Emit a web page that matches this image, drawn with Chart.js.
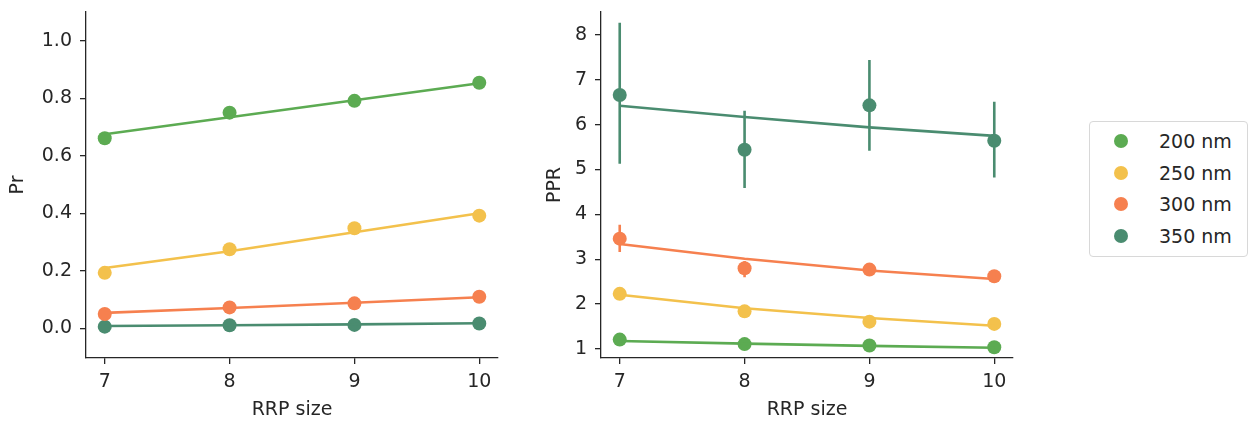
<!DOCTYPE html>
<html><head><meta charset="utf-8">
<script src="https://cdn.jsdelivr.net/npm/chart.js@4.4.0/dist/chart.umd.min.js"></script>
<style>
html,body{margin:0;padding:0;background:#fff;}
body{width:1250px;height:422px;overflow:hidden;position:relative;font-family:"DejaVu Sans",sans-serif;color:#262626;}
#w1{position:absolute;left:0;top:0;width:510px;height:422px;}
#w2{position:absolute;left:520px;top:0;width:510px;height:422px;}
#legend{position:absolute;left:1089px;top:121px;width:159px;height:136px;border:1px solid #d8d8d8;border-radius:4px;box-sizing:border-box;background:#fff;}
.item{position:absolute;left:0;width:100%;height:30px;}
.dot{position:absolute;left:24px;top:8px;width:14px;height:14px;border-radius:50%;}
.lbl{position:absolute;left:69px;top:0;line-height:30px;font-size:19px;white-space:nowrap;}
</style></head>
<body>
<div id="w1"><canvas id="c1" width="510" height="422"></canvas></div>
<div id="w2"><canvas id="c2" width="510" height="422"></canvas></div>
<div id="legend"></div>
<script>
// ---- data ----
const rrpSizes = [7, 8, 9, 10];
const xTickValues = [7, 8, 9, 10];
const seriesLabels = ['200 nm', '250 nm', '300 nm', '350 nm'];
const seriesColors = ['#5cab52', '#f3c14c', '#f6804f', '#4a8c70'];

// Pr (left panel): measured points and fitted line
const pr200 = [0.661, 0.750, 0.791, 0.854];
const pr250 = [0.193, 0.275, 0.348, 0.392];
const pr300 = [0.050, 0.073, 0.087, 0.110];
const pr350 = [0.006, 0.011, 0.012, 0.017];
const prFit200 = [0.675, 0.734, 0.793, 0.852];
const prFit250 = [0.210, 0.268, 0.334, 0.400];
const prFit300 = [0.054, 0.071, 0.089, 0.108];
const prFit350 = [0.008, 0.011, 0.014, 0.018];
const prTicks = [0.0, 0.2, 0.4, 0.6, 0.8, 1.0];

// PPR (right panel): measured points, error bar ends and fitted line
const ppr200 = [1.21, 1.11, 1.08, 1.04];
const ppr250 = [2.23, 1.84, 1.61, 1.56];
const ppr300 = [3.46, 2.80, 2.77, 2.62];
const ppr350 = [6.66, 5.44, 6.43, 5.64];
const pprLow300 = [3.16, 2.60, 2.66, 2.53];
const pprHigh300 = [3.77, 2.96, 2.88, 2.73];
const pprLow350 = [5.13, 4.59, 5.42, 4.82];
const pprHigh350 = [8.27, 6.31, 7.44, 6.51];
const pprFit200 = [1.18, 1.12, 1.07, 1.03];
const pprFit250 = [2.21, 1.91, 1.69, 1.52];
const pprFit300 = [3.34, 3.01, 2.75, 2.56];
const pprFit350 = [6.42, 6.17, 5.94, 5.75];
const pprTicks = [1, 2, 3, 4, 5, 6, 7, 8];

// ---- build ----
const INK = '#262626';
const FONT = 'DejaVu Sans';
const pts = ys => rrpSizes.map((x, i) => ({x, y: ys[i]}));
function errPts(lo, hi) {
  const out = [];
  rrpSizes.forEach((x, i) => { out.push({x, y: lo[i]}, {x, y: hi[i]}, {x, y: null}); });
  return out;
}
function pointDs(ys, c) {
  return {data: pts(ys), showLine: false, pointRadius: 7, pointHoverRadius: 7,
    pointBackgroundColor: c, pointBorderColor: c, pointBorderWidth: 0, backgroundColor: c, borderColor: c};
}
function lineDs(ys, c) {
  return {data: pts(ys), showLine: true, pointRadius: 0, borderColor: c, borderWidth: 2.6, fill: false, tension: 0};
}
function errDs(lo, hi, c) {
  return {data: errPts(lo, hi), showLine: true, spanGaps: false, pointRadius: 0, borderColor: c, borderWidth: 2.6, fill: false};
}
function zeroPad(s) { s.paddingTop = 0; s.paddingBottom = 0; s.paddingLeft = 0; s.paddingRight = 0; }

function makeOptions(yMin, yMax, yTicks, yFmt, yTitle, yWidth, yTitlePad, padRight) {
  return {
    responsive: false, animation: false, devicePixelRatio: 1,
    layout: {padding: {left: 0, top: 12, right: padRight, bottom: 0}},
    plugins: {legend: {display: false}, tooltip: {enabled: false}},
    events: [],
    scales: {
      x: {
        type: 'linear', min: 6.85, max: 10.15,
        afterBuildTicks: s => { s.ticks = xTickValues.map(v => ({value: v})); },
        afterFit: s => { s.height = 64; zeroPad(s); },
        ticks: {autoSkip: false, maxRotation: 0, padding: 7, color: INK, font: {family: FONT, size: 19}, callback: v => String(v)},
        grid: {display: true, drawOnChartArea: false, drawTicks: true, tickLength: 6, color: INK, lineWidth: 1.3},
        border: {display: true, color: INK, width: 1.3},
        title: {display: true, text: 'RRP size', color: INK, font: {family: FONT, size: 19}, padding: {top: 0, bottom: 1}}
      },
      y: {
        type: 'linear', min: yMin, max: yMax,
        afterBuildTicks: s => { s.ticks = yTicks.map(v => ({value: v})); },
        afterFit: s => { s.width = yWidth; zeroPad(s); },
        ticks: {autoSkip: false, padding: 8, color: INK, font: {family: FONT, size: 19}, callback: yFmt},
        grid: {display: true, drawOnChartArea: false, drawTicks: true, tickLength: 6, color: INK, lineWidth: 1.3},
        border: {display: true, color: INK, width: 1.3},
        title: {display: true, text: yTitle, color: INK, font: {family: FONT, size: 19}, padding: {top: yTitlePad, bottom: 0}}
      }
    }
  };
}

const leftSets = [
  lineDs(prFit200, seriesColors[0]), pointDs(pr200, seriesColors[0]),
  lineDs(prFit250, seriesColors[1]), pointDs(pr250, seriesColors[1]),
  lineDs(prFit300, seriesColors[2]), pointDs(pr300, seriesColors[2]),
  lineDs(prFit350, seriesColors[3]), pointDs(pr350, seriesColors[3])
];
new Chart(document.getElementById('c1'), {
  type: 'scatter',
  data: {datasets: leftSets},
  options: makeOptions(-0.103, 1.1, prTicks, v => Number(v).toFixed(1), 'Pr', 86, 6.6, 12)
});

const rightSets = [
  lineDs(pprFit200, seriesColors[0]), pointDs(ppr200, seriesColors[0]),
  lineDs(pprFit250, seriesColors[1]), pointDs(ppr250, seriesColors[1]),
  errDs(pprLow300, pprHigh300, seriesColors[2]),
  lineDs(pprFit300, seriesColors[2]), pointDs(ppr300, seriesColors[2]),
  errDs(pprLow350, pprHigh350, seriesColors[3]),
  lineDs(pprFit350, seriesColors[3]), pointDs(ppr350, seriesColors[3])
];
new Chart(document.getElementById('c2'), {
  type: 'scatter',
  data: {datasets: rightSets},
  options: makeOptions(0.8, 8.51, pprTicks, v => String(v), 'PPR', 81, 23.6, 17)
});

// legend
const lg = document.getElementById('legend');
seriesLabels.forEach((t, i) => {
  const it = document.createElement('div');
  it.className = 'item';
  it.style.top = (4 + i * 31.7) + 'px';
  it.innerHTML = '<span class="dot" style="background:' + seriesColors[i] + '"></span><span class="lbl">' + t + '</span>';
  lg.appendChild(it);
});
</script>
</body></html>
